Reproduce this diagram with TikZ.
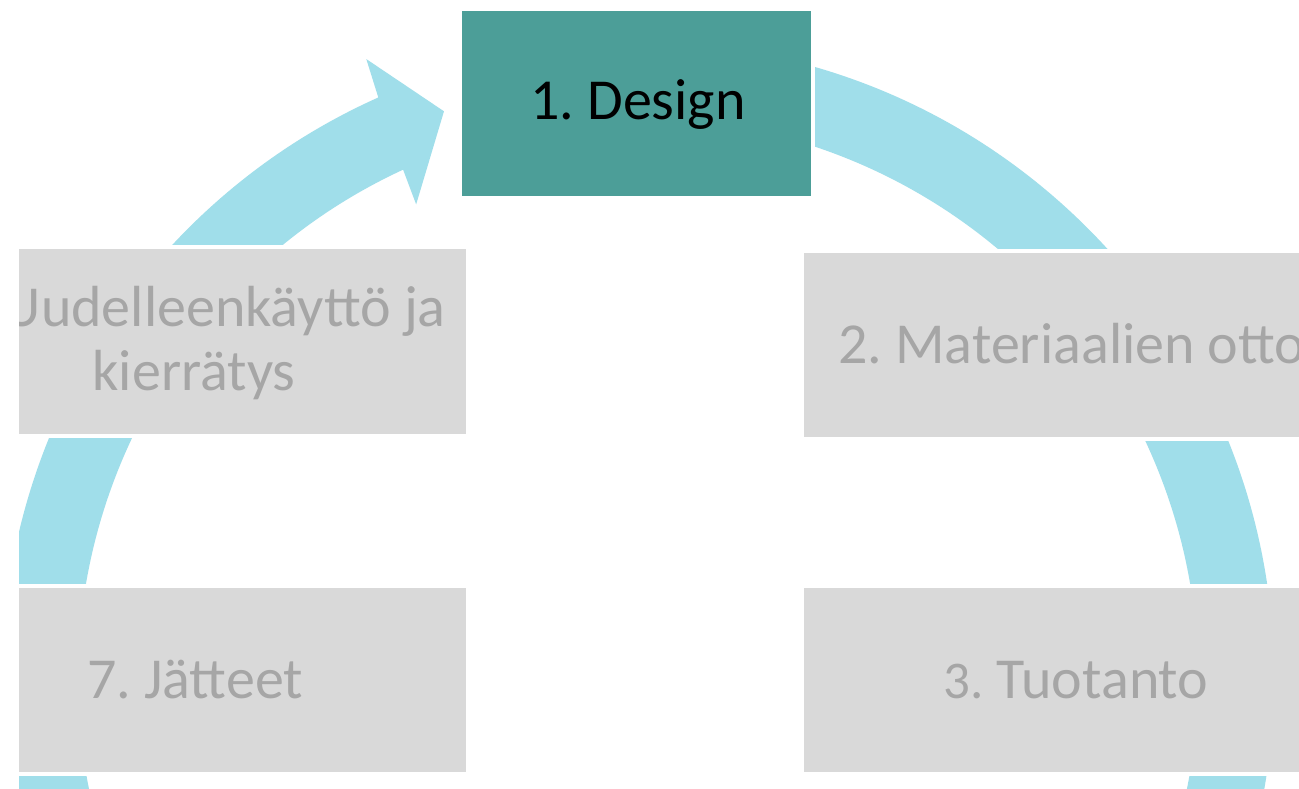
\documentclass[tikz,border=0pt]{standalone}
\usepackage{fontspec}
\setmainfont{Carlito}
\definecolor{ringblue}{HTML}{A0DEEA}
\definecolor{tealbox}{HTML}{4C9E98}
\definecolor{greybox}{HTML}{D9D9D9}
\definecolor{greytext}{HTML}{A6A6A6}
\frenchspacing
\begin{document}
\begin{tikzpicture}[x=1pt,y=-1pt,
  box/.style={draw=white, line width=4pt, inner sep=0pt, outer sep=0pt},
  lbl/.style={font=\fontsize{58}{64}\selectfont, text=greytext, inner sep=0pt, anchor=base}]
\fill[white] (0,0) rectangle (1299,789);
\useasboundingbox (0,0) rectangle (1299,789);
\clip (19,0) rectangle (1299,789);
% ring arrow
\begin{scope}[shift={(638,678)}]
\fill[ringblue] (-445:636) arc[start angle=-445, end angle=-114.1, radius=636]
  -- (-113.7:676) -- (-108.9:599) -- (-115.1:523) -- (-114.8:560)
  arc[start angle=-114.8, end angle=-445, radius=560] -- cycle;
\end{scope}
% boxes
\node[box, fill=tealbox, minimum width=353pt, minimum height=189pt] (b1) at (636.5,103.5) {};
\node[box, fill=greybox, minimum width=548pt, minimum height=188pt] (b2) at (1076,345) {};
\node[box, fill=greybox, minimum width=548pt, minimum height=188pt] (b3) at (1076,680) {};
\node[box, fill=greybox, minimum width=548pt, minimum height=188pt] (b7) at (194,680) {};
\node[box, fill=greybox, minimum width=548pt, minimum height=189pt] (b8) at (194,341.5) {};
% labels
\node[lbl, text=black] (t1) at (638,120) {1. Design};
\node[lbl, anchor=base east] (t8a) at (446,326) {Uudelleenkäyttö ja};
\node[lbl] (t8b) at (194,390) {kierrätys};
\node[lbl, anchor=base west] (t2) at (838,363) {2. Materiaalien otto};
\node[lbl] (t3) at (1076,698) {{\fontsize{53}{64}\selectfont 3.} Tuotanto};
\node[lbl] (t7) at (195,698) {7. Jätteet};
\end{tikzpicture}
\end{document}
